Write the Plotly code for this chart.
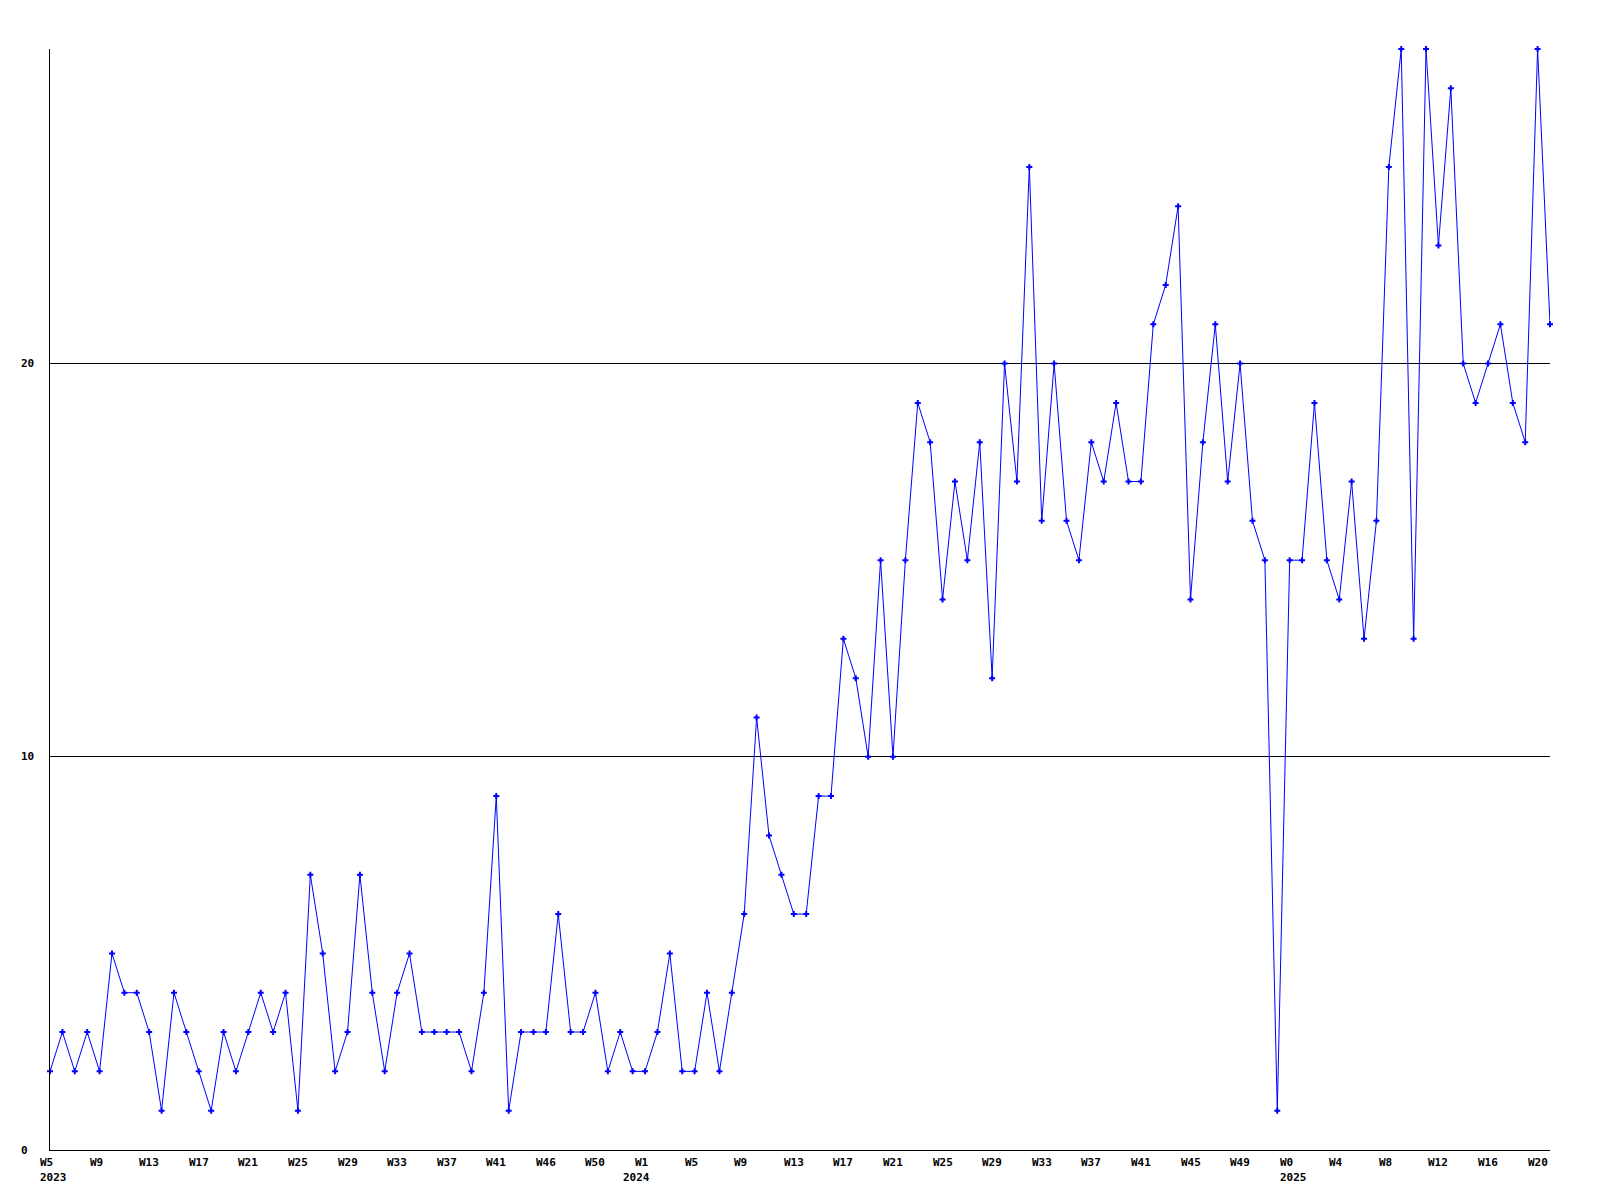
import plotly.graph_objects as go

# weekly counts, 2023 W5 .. 2025 W21
values = [2, 3, 2, 3, 2, 5, 4, 4, 3, 1, 4, 3, 2, 1, 3, 2, 3, 4, 3, 4,
          1, 7, 5, 2, 3, 7, 4, 2, 4, 5, 3, 3, 3, 3, 2, 4, 9, 1, 3, 3,
          3, 6, 3, 3, 4, 2, 3, 2, 2, 3, 5, 2, 2, 4, 2, 4, 6, 11, 8, 7,
          6, 6, 9, 9, 13, 12, 10, 15, 10, 15, 19, 18, 14, 17, 15, 18, 12, 20, 17, 25,
          16, 20, 16, 15, 18, 17, 19, 17, 17, 21, 22, 24, 14, 18, 21, 17, 20, 16, 15, 1,
          15, 15, 19, 15, 14, 17, 13, 16, 25, 28, 13, 28, 23, 27, 20, 19, 20, 21, 19, 18,
          28, 21]

week_labels = ["W5", "W9", "W13", "W17", "W21", "W25", "W29", "W33", "W37", "W41", "W46", "W50",
               "W1", "W5", "W9", "W13", "W17", "W21", "W25", "W29", "W33", "W37", "W41", "W45", "W49",
               "W0", "W4", "W8", "W12", "W16", "W20"]
label_step = 4

year_labels = ["2023", "2024", "2025"]
year_label_points = [0, 47, 100]

y_tick_values = [0, 10, 20]
y_max = 28

x = list(range(len(values)))

fig = go.Figure()
fig.add_trace(go.Scatter(
    x=x, y=values, mode="lines+markers",
    line=dict(color="#0000ff", width=1),
    marker=dict(symbol="cross", size=5, color="#0000ff", line=dict(width=0)),
    cliponaxis=False, showlegend=False, hoverinfo="x+y",
))

font = dict(family="DejaVu Sans Mono", size=11, color="black", weight="bold")
ann = []
for k, lab in enumerate(week_labels):
    ann.append(dict(x=k * label_step, xref="x", y=0, yref="paper", text=lab,
                    showarrow=False, xanchor="left", yanchor="middle",
                    xshift=-11, yshift=-12, font=font, borderpad=0))
for lab, p in zip(year_labels, year_label_points):
    ann.append(dict(x=p, xref="x", y=0, yref="paper", text=lab,
                    showarrow=False, xanchor="left", yanchor="middle",
                    xshift=-11, yshift=-27, font=font, borderpad=0))
for v in y_tick_values:
    ann.append(dict(x=0, xref="paper", y=v, yref="y", text=str(v),
                    showarrow=False, xanchor="left", yanchor="middle",
                    xshift=-30, font=font, borderpad=0))

fig.update_layout(
    width=1600, height=1200,
    margin=dict(l=42, r=58, t=41, b=58, pad=0),
    paper_bgcolor="white", plot_bgcolor="white",
    annotations=ann,
    xaxis=dict(range=[0, len(values) - 1], showgrid=False, zeroline=False,
               showline=True, linecolor="black", linewidth=1,
               showticklabels=False, ticks=""),
    yaxis=dict(range=[0, y_max], tickvals=[v for v in y_tick_values if v > 0],
               showgrid=True, gridcolor="black", gridwidth=1, zeroline=False,
               showline=True, linecolor="black", linewidth=1,
               showticklabels=False, ticks=""),
)

fig.write_html("out.html")
